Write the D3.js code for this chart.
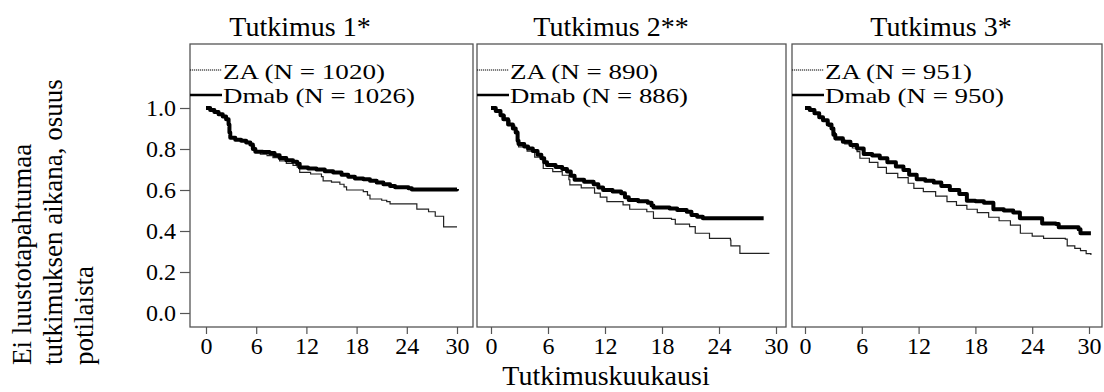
<!DOCTYPE html>
<html>
<head>
<meta charset="utf-8">
<script src="https://cdn.jsdelivr.net/npm/d3@7"></script>
<style>
  html, body { margin: 0; padding: 0; background: #fff; }
  svg { display: block; }
</style>
</head>
<body>
<svg id="chart" width="1104" height="392"></svg>
<script>
// ---------------- data ----------------
const studyTitles = ["Tutkimus 1*", "Tutkimus 2**", "Tutkimus 3*"];
const zaLabels = ["ZA (N = 1020)", "ZA (N = 890)", "ZA (N = 951)"];
const dmabLabels = ["Dmab (N = 1026)", "Dmab (N = 886)", "Dmab (N = 950)"];
const xTicks = [0, 6, 12, 18, 24, 30];
const yTicks = [0.0, 0.2, 0.4, 0.6, 0.8, 1.0];
const yTitleLines = ["Ei luustotapahtumaa", "tutkimuksen aikana, osuus", "potilaista"];
const xTitle = "Tutkimuskuukausi";

// [month, proportion without skeletal event]
const study1ZA = [[0,1],[0.5,0.99],[1,0.98],[1.5,0.97],[2,0.955],[2.4,0.94],[2.7,0.91],[2.9,0.855],[3.5,0.845],[4.3,0.838],[5,0.83],[5.4,0.815],[5.8,0.785],[6.5,0.775],[7.3,0.768],[8,0.758],[8.8,0.742],[9.6,0.73],[10.4,0.72],[10.9,0.712],[11.2,0.686],[12.5,0.678],[13.8,0.665],[14,0.645],[15,0.638],[16,0.628],[16.5,0.615],[16.8,0.6],[18.8,0.592],[19.3,0.575],[19.6,0.556],[21,0.55],[21.6,0.543],[22,0.532],[25.1,0.532],[25.2,0.507],[26.6,0.494],[27.4,0.472],[28.4,0.42],[30,0.42]];
const study1Dmab = [[0,1],[0.5,0.99],[1,0.98],[1.5,0.97],[2,0.958],[2.4,0.945],[2.7,0.92],[2.8,0.88],[2.9,0.855],[3.5,0.845],[4.2,0.84],[4.8,0.832],[5.3,0.822],[5.6,0.8],[5.9,0.787],[6.8,0.785],[7.6,0.78],[8.2,0.77],[8.8,0.756],[9.6,0.745],[10.4,0.738],[10.9,0.728],[11.2,0.71],[12.2,0.705],[13.2,0.7],[14.2,0.692],[15.2,0.685],[16.2,0.675],[17,0.665],[17.8,0.656],[18.8,0.652],[19.6,0.645],[20.4,0.637],[21.2,0.628],[22,0.62],[22.6,0.613],[24.2,0.608],[24.6,0.603],[30,0.605]];
const study2ZA = [[0,1],[0.5,0.985],[1,0.965],[1.5,0.94],[2,0.915],[2.5,0.89],[2.8,0.84],[2.9,0.81],[3.8,0.79],[4.6,0.76],[5.5,0.705],[6.5,0.69],[7.5,0.672],[8.2,0.65],[8.3,0.625],[9.5,0.61],[10.9,0.585],[11.5,0.565],[12.2,0.543],[13.9,0.527],[14.6,0.506],[16.4,0.494],[17.1,0.462],[19,0.457],[19.4,0.434],[20.9,0.421],[21.5,0.389],[23,0.364],[25.2,0.356],[25.25,0.327],[26.2,0.291],[29.3,0.291]];
const study2Dmab = [[0,1],[0.5,0.985],[1,0.965],[1.3,0.945],[1.8,0.92],[2.3,0.9],[2.6,0.88],[2.8,0.84],[2.9,0.825],[3.5,0.812],[3.9,0.803],[4.4,0.79],[4.9,0.772],[5.3,0.755],[5.6,0.735],[5.9,0.722],[6.8,0.712],[7.5,0.703],[8,0.69],[8.4,0.67],[8.8,0.65],[9.8,0.64],[10.8,0.628],[11.3,0.612],[11.8,0.6],[12.8,0.593],[13.7,0.584],[14.1,0.565],[14.5,0.551],[15.5,0.545],[16.5,0.538],[16.9,0.525],[17.1,0.515],[18.8,0.51],[19.6,0.502],[20.6,0.494],[21.1,0.478],[21.7,0.47],[22.3,0.462],[28.7,0.462]];
const study3ZA = [[0,1],[0.5,0.99],[1,0.975],[1.5,0.955],[2,0.935],[2.5,0.91],[2.9,0.88],[3.2,0.845],[4.2,0.825],[5,0.805],[5.5,0.787],[5.8,0.755],[6.8,0.735],[7.7,0.71],[8.6,0.681],[9.8,0.66],[10.9,0.633],[11.5,0.608],[12.5,0.592],[13.8,0.57],[15,0.543],[16,0.525],[17.1,0.506],[18.2,0.49],[19.4,0.467],[20.5,0.45],[21.7,0.429],[22.75,0.389],[24,0.375],[25.2,0.364],[27.5,0.36],[27.7,0.327],[28.5,0.315],[29.1,0.304],[29.7,0.29],[30.2,0.283]];
const study3Dmab = [[0,1],[0.5,0.99],[1,0.975],[1.5,0.955],[1.9,0.94],[2.4,0.92],[2.8,0.9],[3,0.87],[3.2,0.852],[4,0.835],[4.8,0.82],[5.5,0.803],[6.2,0.776],[7.1,0.768],[7.9,0.755],[8.7,0.735],[9.6,0.715],[10.4,0.698],[11,0.675],[11.8,0.652],[12.7,0.645],[13.6,0.636],[14.4,0.62],[15.3,0.6],[16.3,0.58],[17.1,0.548],[18,0.545],[18.9,0.538],[19.9,0.506],[21,0.5],[22,0.49],[22.7,0.462],[24.9,0.462],[25.05,0.437],[26.5,0.434],[26.8,0.418],[28.9,0.408],[29.1,0.389],[30.2,0.389]];

const zaSeries = [study1ZA, study2ZA, study3ZA];
const dmabSeries = [study1Dmab, study2Dmab, study3Dmab];

// ---------------- layout ----------------
const FONT = "'Liberation Serif', 'DejaVu Serif', 'Noto Serif', Tinos, 'Times New Roman', Times, serif";
const frameTop = 44, frameBottom = 327;
const panels = [
  { left: 190, right: 473, r0: 206, r30: 457, titleX: 300, zaW: 162, dmW: 192 },
  { left: 477, right: 786, r0: 491, r30: 776, titleX: 611, zaW: 148, dmW: 178 },
  { left: 792, right: 1102, r0: 805, r30: 1089, titleX: 941, zaW: 147, dmW: 179 }
];

const svg = d3.select("#chart").style("font-family", FONT);
const y = d3.scaleLinear().domain([0, 1]).range([313, 108]);

function styleText(sel, size) {
  sel.attr("font-family", FONT).style("font-family", FONT).style("font-size", size + "px").attr("fill", "#000");
}

panels.forEach((p, i) => {
  const x = d3.scaleLinear().domain([0, 30]).range([p.r0, p.r30]);
  const g = svg.append("g");

  // frame
  g.append("rect")
    .attr("x", p.left).attr("y", frameTop)
    .attr("width", p.right - p.left).attr("height", frameBottom - frameTop)
    .attr("fill", "none").attr("stroke", "#555").attr("stroke-width", 1.3);

  // x axis
  const xa = g.append("g")
    .attr("transform", `translate(0,${frameBottom})`)
    .call(d3.axisBottom(x).tickValues(xTicks).tickSize(7).tickPadding(3).tickFormat(d3.format("d")));
  xa.attr("font-family", FONT);
  xa.select(".domain").remove();
  xa.selectAll(".tick line").attr("stroke", "#555").attr("stroke-width", 1.2);
  styleText(xa.selectAll(".tick text"), 24);

  // y axis (first panel only)
  if (i === 0) {
    const ya = g.append("g")
      .attr("transform", `translate(${p.left},0)`)
      .call(d3.axisLeft(y).tickValues(yTicks).tickSize(10).tickPadding(4).tickFormat(d3.format(".1f")));
    ya.attr("font-family", FONT);
    ya.select(".domain").remove();
    ya.selectAll(".tick line").attr("stroke", "#555").attr("stroke-width", 1.2);
    styleText(ya.selectAll(".tick text"), 24);
  }

  // title
  styleText(svg.append("text")
    .attr("x", p.titleX).attr("y", 36)
    .attr("text-anchor", "middle")
    .text(studyTitles[i]), 28);

  // curves
  const line = d3.line().x(d => x(d[0])).y(d => y(d[1])).curve(d3.curveStepAfter);
  g.append("path").datum(zaSeries[i])
    .attr("d", line).attr("fill", "none")
    .attr("stroke", "#222").attr("stroke-width", 1.2);
  g.append("path").datum(dmabSeries[i])
    .attr("d", line).attr("fill", "none")
    .attr("stroke", "#000").attr("stroke-width", 4).attr("stroke-linejoin", "round");

  // legend
  const textX = p.left + 33;
  g.append("line").attr("x1", p.left).attr("x2", textX - 1).attr("y1", 70).attr("y2", 70)
    .attr("stroke", "#000").attr("stroke-width", 1.2).attr("stroke-dasharray", "1.2,0.8");
  g.append("line").attr("x1", p.left).attr("x2", textX - 1).attr("y1", 95).attr("y2", 95)
    .attr("stroke", "#000").attr("stroke-width", 2.5);
  styleText(g.append("text").attr("x", textX).attr("y", 79)
    .attr("textLength", p.zaW).attr("lengthAdjust", "spacingAndGlyphs")
    .text(zaLabels[i]), 22);
  styleText(g.append("text").attr("x", textX).attr("y", 103)
    .attr("textLength", p.dmW).attr("lengthAdjust", "spacingAndGlyphs")
    .text(dmabLabels[i]), 22);
});

// y title
const yBaselines = [31, 62, 93];
yTitleLines.forEach((t, k) => {
  styleText(svg.append("text")
    .attr("transform", `translate(${yBaselines[k]},365) rotate(-90)`)
    .attr("text-anchor", "start")
    .text(t), 27);
});

// x title
styleText(svg.append("text")
  .attr("x", 606).attr("y", 385)
  .attr("text-anchor", "middle")
  .text(xTitle), 28);
</script>
</body>
</html>
